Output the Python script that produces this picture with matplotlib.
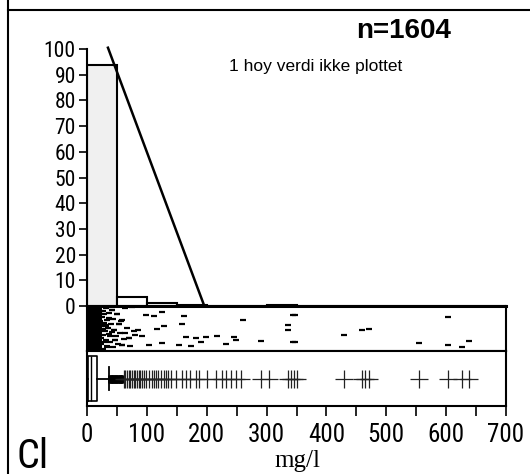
import matplotlib.pyplot as plt
from matplotlib.lines import Line2D

W, H = 530, 474

# histogram: percent of samples per 50 mg/l bin
bin_left = [0, 50, 100, 150, 200, 250, 300, 350, 400, 450, 500, 550, 600, 650]
bin_pct = [93.8, 3.5, 1.3, 0.5, 0.15, 0.1, 0.2, 0.05, 0.1, 0.1, 0.0, 0.05, 0.15, 0.0]
line_x = [35, 196]
line_y = [100.5, 0]

# jittered strip (x in mg/l, y = jitter 0..1)
core_x = [4, 4, 4, 4, 4, 4, 4, 4, 12, 12, 12, 12, 12, 12, 12, 12]
core_y = [0.06, 0.19, 0.32, 0.45, 0.58, 0.71, 0.84, 0.95,
          0.06, 0.19, 0.32, 0.45, 0.58, 0.71, 0.84, 0.95]
strip_x = [22, 25, 24, 26, 23, 27, 28, 29, 30, 31, 32, 33, 34, 35, 36, 37, 38,
           40, 41, 42, 43, 44, 45, 47, 48, 50, 52, 53, 55, 57, 59, 59, 62, 64,
           64, 67, 70, 72, 75, 78, 42, 50, 53, 45, 47, 59, 70, 86, 92, 81,
           98, 112, 126, 162, 159, 128, 117, 260, 335, 335, 344, 165, 182, 198,
           218, 246, 249, 290, 344, 232, 190, 173, 154, 126, 103,
           347, 347, 429, 459, 471, 555, 603, 603, 626, 639,
           21, 24, 27, 30, 33, 36, 39, 26, 29, 32]
strip_y = [0.9, 0.75, 0.55, 0.35, 0.15, 0.05, 0.62, 0.82, 0.45, 0.25, 0.95, 0.68,
           0.12, 0.52, 0.38, 0.85, 0.2, 0.6, 0.42, 0.92, 0.08, 0.72, 0.47, 0.25,
           0.33, 0.83, 0.15, 0.59, 0.4, 0.66, 0.14, 0.7, 0.27, 0.4, 0.96, 0.52,
           0.29, 0.12, 0.98, 0.45, 0.92, 0.83, 0.59, 0.47, 0.25, 0.14, 0.29, 0.47,
           0.34, 0.36, 0.8, 0.77, 0.87, 0.77, 0.6, 0.55, 0.5, 0.68, 0.57, 0.47,
           0.8, 0.32, 0.3, 0.32, 0.34, 0.31, 0.25, 0.23, 0.21, 0.16, 0.2, 0.11,
           0.14, 0.17, 0.14, 0.8, 0.21, 0.36, 0.47, 0.5, 0.17, 0.75, 0.14, 0.09, 0.23,
           0.66, 0.3, 0.88, 0.58, 0.08, 0.74, 0.34, 0.49, 0.19, 0.55]

# boxplot
box_stats = [{'q1': 1.7, 'med': 7, 'q3': 16.8, 'whislo': 0.5, 'whishi': 36, 'fliers': []}]
dense_out = [37, 38, 39.5, 40, 41, 42.5, 43, 44, 45.5, 46, 47, 48.5, 49, 50,
             51.5, 52, 53, 54.5, 55, 56, 57.5, 58, 59]
plus_out = [61.5, 64, 67, 70, 72.6, 75, 78, 81, 84, 86.6, 89, 92, 95, 99.4, 103,
            108, 112, 116, 119, 123, 128.5, 132, 136, 140, 149, 159, 165, 171.5,
            181.6, 187, 201, 215, 226, 232, 241, 249, 257, 290.5, 304.5, 335,
            341, 346, 350, 429, 459, 464, 471, 555, 603, 626, 639]

condensed = ['Roboto Condensed', 'Liberation Sans', 'DejaVu Sans']
plain = ['Liberation Sans', 'DejaVu Sans']
plt.rcParams['font.family'] = condensed

fig = plt.figure(figsize=(W / 100, H / 100), dpi=100)


def px_axes(x0, y0, x1, y1):
    return fig.add_axes([x0 / W, 1 - y1 / H, (x1 - x0) / W, (y1 - y0) / H])


# outer frame lines
fig.add_artist(Line2D([7.5 / W, 7.5 / W], [0, 1], color='black', lw=1.5))
fig.add_artist(Line2D([7.5 / W, 1], [1 - 10 / H, 1 - 10 / H], color='black', lw=1.5))

# histogram
ax_h = px_axes(87, 49, 506, 306)
colors = ['#f0f0f0'] + ['white'] * (len(bin_left) - 1)
ax_h.bar(bin_left, bin_pct, width=50, align='edge', color=colors,
         edgecolor='black', linewidth=1.5)
ax_h.plot(line_x, line_y, color='black', lw=1.8, clip_on=False)
ax_h.set_xlim(0, 700)
ax_h.set_ylim(0, 100)
for s in ['top', 'right', 'bottom']:
    ax_h.spines[s].set_visible(False)
ax_h.spines['left'].set_linewidth(1.5)
ax_h.set_xticks([])
ax_h.set_yticks(range(0, 101, 10))
ax_h.tick_params(axis='y', direction='out', length=6, width=1.2, pad=2, labelsize=15.5)
ax_h.patch.set_alpha(0)

# jitter strip
ax_s = px_axes(87, 306, 506, 351)
ax_s.plot(core_x, core_y, ls='none', marker='_', ms=11, mew=6, color='black')
ax_s.plot(strip_x, strip_y, ls='none', marker='_', ms=5, mew=1.6, color='black')
ax_s.set_xlim(0, 700)
ax_s.set_ylim(0, 1)
ax_s.set_xticks([])
ax_s.set_yticks([])
for s in ax_s.spines.values():
    s.set_linewidth(1.5)
ax_s.spines['top'].set_linewidth(2.2)

# boxplot strip
ax_b = px_axes(87, 351, 506, 406)
ax_b.bxp(box_stats, positions=[0.5], widths=0.82, vert=False, showfliers=False,
         capwidths=0.42,
         boxprops=dict(color='black', lw=1.2),
         whiskerprops=dict(color='black', lw=1.3),
         capprops=dict(color='black', lw=1.3),
         medianprops=dict(color='black', lw=1))
ax_b.plot(dense_out, [0.5] * len(dense_out), ls='none', marker='|', ms=6, mew=2,
          color='black')
ax_b.plot(plus_out, [0.5] * len(plus_out), ls='none', marker='+', ms=13, mew=0.9,
          color='#222222')
ax_b.set_xlim(0, 700)
ax_b.set_ylim(0, 1)
ax_b.set_yticks([])
ax_b.set_xticks(range(0, 701, 100))
ax_b.set_xticks(range(50, 700, 100), minor=True)
ax_b.tick_params(axis='x', which='both', direction='out', length=7, width=1.2)
ax_b.tick_params(axis='x', which='major', pad=5, labelsize=18)
for s in ax_b.spines.values():
    s.set_linewidth(1.5)

# texts
fig.text(404 / W, 1 - 31 / H, 'n=1604', ha='center', va='center', fontsize=20,
         fontweight='bold', family=plain)
fig.text(316 / W, 1 - 67 / H, '1 hoy verdi ikke plottet', ha='center', va='center',
         fontsize=12.5, family=plain)
fig.text(297 / W, 1 - 461 / H, 'mg/l', ha='center', va='center', fontsize=18,
         family=['Liberation Serif', 'DejaVu Serif'])
fig.text(33 / W, 1 - 456 / H, 'Cl', ha='center', va='center', fontsize=29)

fig.savefig('out.png', dpi=100)
